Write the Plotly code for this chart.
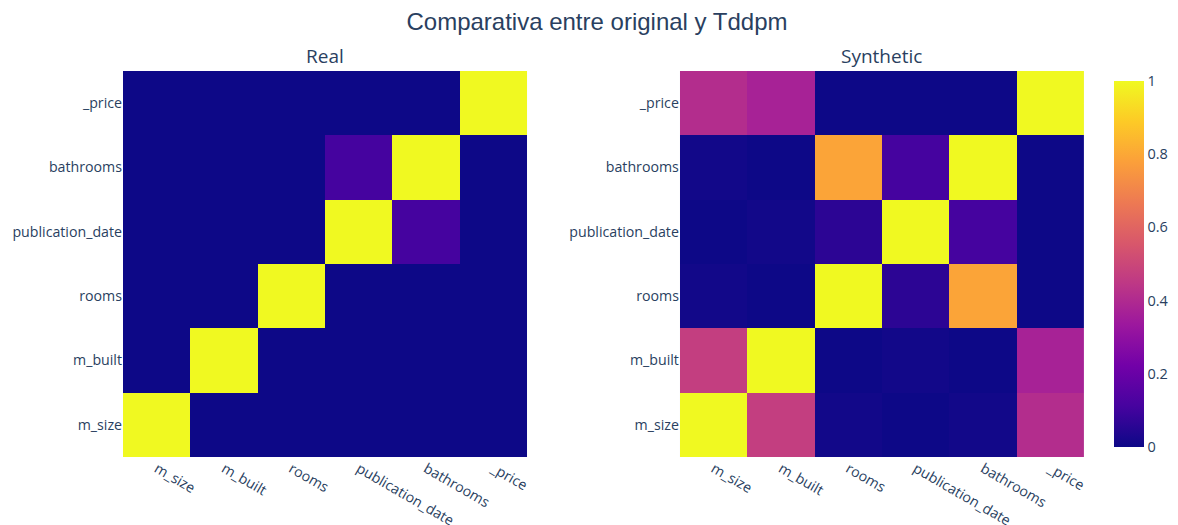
import plotly.graph_objects as go
from plotly.subplots import make_subplots

columns = ["m_size", "m_built", "rooms", "publication_date", "bathrooms", "_price"]

# correlation matrices, rows follow `columns` (bottom to top)
real_corr = [
    [1.00, 0.00, 0.00, 0.00, 0.00, 0.00],
    [0.00, 1.00, 0.00, 0.00, 0.00, 0.00],
    [0.00, 0.00, 1.00, 0.00, 0.00, 0.00],
    [0.00, 0.00, 0.00, 1.00, 0.11, 0.00],
    [0.00, 0.00, 0.00, 0.11, 1.00, 0.00],
    [0.00, 0.00, 0.00, 0.00, 0.00, 1.00],
]

synth_corr = [
    [1.00, 0.47, 0.01, 0.00, 0.01, 0.41],
    [0.47, 1.00, 0.00, 0.01, 0.00, 0.37],
    [0.01, 0.00, 1.00, 0.06, 0.79, 0.00],
    [0.00, 0.01, 0.06, 1.00, 0.11, 0.00],
    [0.01, 0.00, 0.79, 0.11, 1.00, 0.00],
    [0.41, 0.37, 0.00, 0.00, 0.00, 1.00],
]

fig = make_subplots(rows=1, cols=2, subplot_titles=("Real", "Synthetic"),
                    horizontal_spacing=0.159)

fig.add_trace(go.Heatmap(z=real_corr, x=columns, y=columns, coloraxis="coloraxis"),
              row=1, col=1)
fig.add_trace(go.Heatmap(z=synth_corr, x=columns, y=columns, coloraxis="coloraxis"),
              row=1, col=2)

fig.update_xaxes(tickangle=30, tickfont=dict(size=14.2), automargin=False)
fig.update_yaxes(tickfont=dict(size=14.2), automargin=False)
fig.update_annotations(font=dict(size=19))

fig.update_layout(
    width=1178, height=525,
    title=dict(text="Comparativa entre original y Tddpm", x=0.5, xanchor="center",
               y=0.975, yanchor="middle", font=dict(size=24, family="Arial")),
    coloraxis=dict(colorscale="Plasma", cmin=0, cmax=1,
                   colorbar=dict(tickfont=dict(size=14.5))),
    margin=dict(l=115, r=101, t=63, b=76),
)

fig.write_html("out.html")
